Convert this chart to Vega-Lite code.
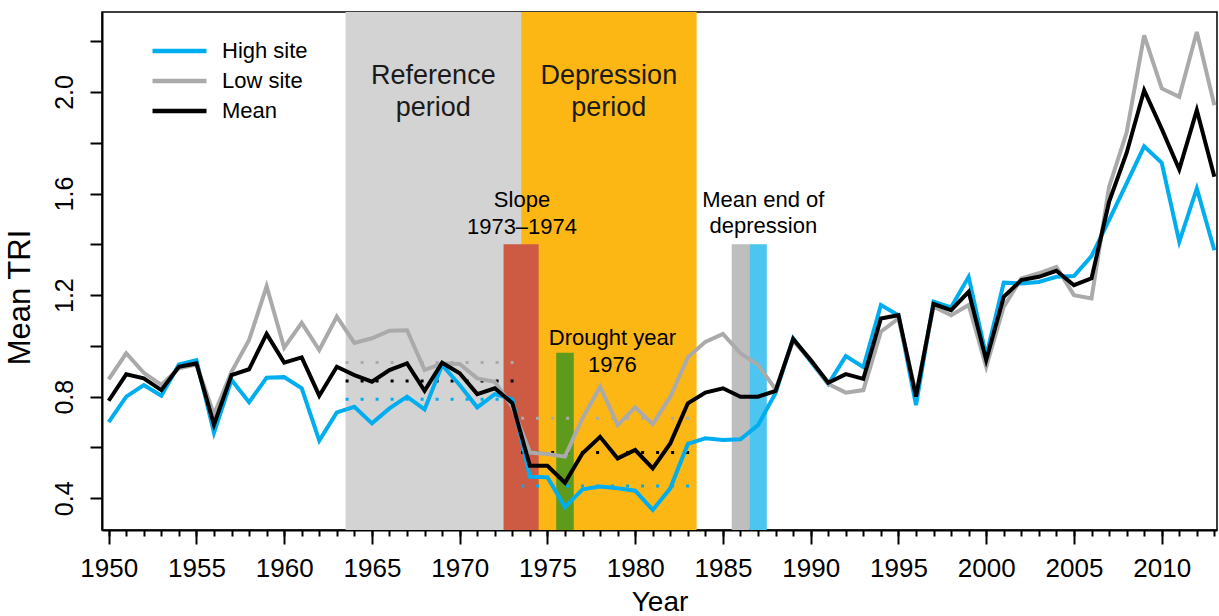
{
  "$schema": "https://vega.github.io/schema/vega-lite/v6.json",
  "width": 1115,
  "height": 518,
  "autosize": {"type": "none"},
  "padding": {"left": 102, "top": 12, "right": 2, "bottom": 86},
  "background": "white",
  "config": {
    "font": "Liberation Sans",
    "view": {"stroke": "#000", "strokeWidth": 1.5},
    "axis": {"domainColor": "#000", "domainWidth": 2, "tickColor": "#000", "tickWidth": 2, "labelColor": "#000", "titleColor": "#000", "labelFont": "Liberation Sans", "titleFont": "Liberation Sans", "labelFontSize": 25, "titleFontSize": 28, "titleFontWeight": "normal", "grid": false}
  },
  "resolve": {"axis": {"x": "independent"}},
  "datasets": {
    "periods": [
      {"period": "Reference", "start": 1963.5, "end": 1973.5},
      {"period": "Depression", "start": 1973.5, "end": 1983.5}
    ],
    "markers": [
      {"marker": "Slope", "start": 1972.5, "end": 1974.5, "top": 1.40},
      {"marker": "Drought", "start": 1975.5, "end": 1976.5, "top": 0.973},
      {"marker": "EndLow", "start": 1985.5, "end": 1986.5, "top": 1.40},
      {"marker": "EndHigh", "start": 1986.5, "end": 1987.5, "top": 1.40}
    ],
    "means": [
      {"series": "High site", "start": 1963.5, "end": 1973.5, "mean": 0.790},
      {"series": "Low site", "start": 1963.5, "end": 1973.5, "mean": 0.935},
      {"series": "Mean", "start": 1963.5, "end": 1973.5, "mean": 0.862},
      {"series": "High site", "start": 1973.5, "end": 1983.5, "mean": 0.448},
      {"series": "Low site", "start": 1973.5, "end": 1983.5, "mean": 0.715},
      {"series": "Mean", "start": 1973.5, "end": 1983.5, "mean": 0.580}
    ],
    "bigtext": [
      {"text": "Reference", "year": 1968.5, "tri": 2.062},
      {"text": "period", "year": 1968.5, "tri": 1.936},
      {"text": "Depression", "year": 1978.5, "tri": 2.062},
      {"text": "period", "year": 1978.5, "tri": 1.936}
    ],
    "smalltext": [
      {"text": "Slope", "year": 1973.55, "tri": 1.574},
      {"text": "1973–1974", "year": 1973.55, "tri": 1.469},
      {"text": "Mean end of", "year": 1987.3, "tri": 1.574},
      {"text": "depression", "year": 1987.3, "tri": 1.472},
      {"text": "Drought year", "year": 1978.7, "tri": 1.030},
      {"text": "1976", "year": 1978.7, "tri": 0.925}
    ],
    "tri": [
      {"series": "High site", "year": 1950, "tri": 0.70},
      {"series": "High site", "year": 1951, "tri": 0.80},
      {"series": "High site", "year": 1952, "tri": 0.846},
      {"series": "High site", "year": 1953, "tri": 0.804},
      {"series": "High site", "year": 1954, "tri": 0.927},
      {"series": "High site", "year": 1955, "tri": 0.944},
      {"series": "High site", "year": 1956, "tri": 0.658},
      {"series": "High site", "year": 1957, "tri": 0.866},
      {"series": "High site", "year": 1958, "tri": 0.778},
      {"series": "High site", "year": 1959, "tri": 0.875},
      {"series": "High site", "year": 1960, "tri": 0.877},
      {"series": "High site", "year": 1961, "tri": 0.833},
      {"series": "High site", "year": 1962, "tri": 0.627},
      {"series": "High site", "year": 1963, "tri": 0.738},
      {"series": "High site", "year": 1964, "tri": 0.760},
      {"series": "High site", "year": 1965, "tri": 0.695},
      {"series": "High site", "year": 1966, "tri": 0.754},
      {"series": "High site", "year": 1967, "tri": 0.800},
      {"series": "High site", "year": 1968, "tri": 0.750},
      {"series": "High site", "year": 1969, "tri": 0.925},
      {"series": "High site", "year": 1970, "tri": 0.846},
      {"series": "High site", "year": 1971, "tri": 0.758},
      {"series": "High site", "year": 1972, "tri": 0.810},
      {"series": "High site", "year": 1973, "tri": 0.790},
      {"series": "High site", "year": 1974, "tri": 0.485},
      {"series": "High site", "year": 1975, "tri": 0.483},
      {"series": "High site", "year": 1976, "tri": 0.365},
      {"series": "High site", "year": 1977, "tri": 0.435},
      {"series": "High site", "year": 1978, "tri": 0.446},
      {"series": "High site", "year": 1979, "tri": 0.439},
      {"series": "High site", "year": 1980, "tri": 0.430},
      {"series": "High site", "year": 1981, "tri": 0.354},
      {"series": "High site", "year": 1982, "tri": 0.439},
      {"series": "High site", "year": 1983, "tri": 0.614},
      {"series": "High site", "year": 1984, "tri": 0.636},
      {"series": "High site", "year": 1985, "tri": 0.629},
      {"series": "High site", "year": 1986, "tri": 0.632},
      {"series": "High site", "year": 1987, "tri": 0.688},
      {"series": "High site", "year": 1988, "tri": 0.815},
      {"series": "High site", "year": 1989, "tri": 1.030},
      {"series": "High site", "year": 1990, "tri": 0.938},
      {"series": "High site", "year": 1991, "tri": 0.850},
      {"series": "High site", "year": 1992, "tri": 0.960},
      {"series": "High site", "year": 1993, "tri": 0.916},
      {"series": "High site", "year": 1994, "tri": 1.161},
      {"series": "High site", "year": 1995, "tri": 1.121},
      {"series": "High site", "year": 1996, "tri": 0.767},
      {"series": "High site", "year": 1997, "tri": 1.174},
      {"series": "High site", "year": 1998, "tri": 1.152},
      {"series": "High site", "year": 1999, "tri": 1.272},
      {"series": "High site", "year": 2000, "tri": 0.960},
      {"series": "High site", "year": 2001, "tri": 1.249},
      {"series": "High site", "year": 2002, "tri": 1.246},
      {"series": "High site", "year": 2003, "tri": 1.252},
      {"series": "High site", "year": 2004, "tri": 1.272},
      {"series": "High site", "year": 2005, "tri": 1.275},
      {"series": "High site", "year": 2006, "tri": 1.354},
      {"series": "High site", "year": 2007, "tri": 1.495},
      {"series": "High site", "year": 2008, "tri": 1.640},
      {"series": "High site", "year": 2009, "tri": 1.786},
      {"series": "High site", "year": 2010, "tri": 1.721},
      {"series": "High site", "year": 2011, "tri": 1.410},
      {"series": "High site", "year": 2012, "tri": 1.620},
      {"series": "High site", "year": 2013, "tri": 1.377},
      {"series": "Low site", "year": 1950, "tri": 0.868},
      {"series": "Low site", "year": 1951, "tri": 0.971},
      {"series": "Low site", "year": 1952, "tri": 0.894},
      {"series": "Low site", "year": 1953, "tri": 0.846},
      {"series": "Low site", "year": 1954, "tri": 0.912},
      {"series": "Low site", "year": 1955, "tri": 0.927},
      {"series": "Low site", "year": 1956, "tri": 0.730},
      {"series": "Low site", "year": 1957, "tri": 0.898},
      {"series": "Low site", "year": 1958, "tri": 1.023},
      {"series": "Low site", "year": 1959, "tri": 1.235},
      {"series": "Low site", "year": 1960, "tri": 0.993},
      {"series": "Low site", "year": 1961, "tri": 1.091},
      {"series": "Low site", "year": 1962, "tri": 0.984},
      {"series": "Low site", "year": 1963, "tri": 1.115},
      {"series": "Low site", "year": 1964, "tri": 1.012},
      {"series": "Low site", "year": 1965, "tri": 1.030},
      {"series": "Low site", "year": 1966, "tri": 1.060},
      {"series": "Low site", "year": 1967, "tri": 1.062},
      {"series": "Low site", "year": 1968, "tri": 0.905},
      {"series": "Low site", "year": 1969, "tri": 0.931},
      {"series": "Low site", "year": 1970, "tri": 0.929},
      {"series": "Low site", "year": 1971, "tri": 0.872},
      {"series": "Low site", "year": 1972, "tri": 0.859},
      {"series": "Low site", "year": 1973, "tri": 0.760},
      {"series": "Low site", "year": 1974, "tri": 0.580},
      {"series": "Low site", "year": 1975, "tri": 0.574},
      {"series": "Low site", "year": 1976, "tri": 0.564},
      {"series": "Low site", "year": 1977, "tri": 0.715},
      {"series": "Low site", "year": 1978, "tri": 0.839},
      {"series": "Low site", "year": 1979, "tri": 0.688},
      {"series": "Low site", "year": 1980, "tri": 0.758},
      {"series": "Low site", "year": 1981, "tri": 0.692},
      {"series": "Low site", "year": 1982, "tri": 0.800},
      {"series": "Low site", "year": 1983, "tri": 0.955},
      {"series": "Low site", "year": 1984, "tri": 1.016},
      {"series": "Low site", "year": 1985, "tri": 1.047},
      {"series": "Low site", "year": 1986, "tri": 0.971},
      {"series": "Low site", "year": 1987, "tri": 0.925},
      {"series": "Low site", "year": 1988, "tri": 0.829},
      {"series": "Low site", "year": 1989, "tri": 1.020},
      {"series": "Low site", "year": 1990, "tri": 0.944},
      {"series": "Low site", "year": 1991, "tri": 0.850},
      {"series": "Low site", "year": 1992, "tri": 0.816},
      {"series": "Low site", "year": 1993, "tri": 0.826},
      {"series": "Low site", "year": 1994, "tri": 1.056},
      {"series": "Low site", "year": 1995, "tri": 1.108},
      {"series": "Low site", "year": 1996, "tri": 0.813},
      {"series": "Low site", "year": 1997, "tri": 1.154},
      {"series": "Low site", "year": 1998, "tri": 1.121},
      {"series": "Low site", "year": 1999, "tri": 1.161},
      {"series": "Low site", "year": 2000, "tri": 0.918},
      {"series": "Low site", "year": 2001, "tri": 1.154},
      {"series": "Low site", "year": 2002, "tri": 1.266},
      {"series": "Low site", "year": 2003, "tri": 1.286},
      {"series": "Low site", "year": 2004, "tri": 1.311},
      {"series": "Low site", "year": 2005, "tri": 1.200},
      {"series": "Low site", "year": 2006, "tri": 1.187},
      {"series": "Low site", "year": 2007, "tri": 1.626},
      {"series": "Low site", "year": 2008, "tri": 1.840},
      {"series": "Low site", "year": 2009, "tri": 2.223},
      {"series": "Low site", "year": 2010, "tri": 2.014},
      {"series": "Low site", "year": 2011, "tri": 1.981},
      {"series": "Low site", "year": 2012, "tri": 2.236},
      {"series": "Low site", "year": 2013, "tri": 1.948},
      {"series": "Mean", "year": 1950, "tri": 0.784},
      {"series": "Mean", "year": 1951, "tri": 0.888},
      {"series": "Mean", "year": 1952, "tri": 0.872},
      {"series": "Mean", "year": 1953, "tri": 0.826},
      {"series": "Mean", "year": 1954, "tri": 0.918},
      {"series": "Mean", "year": 1955, "tri": 0.931},
      {"series": "Mean", "year": 1956, "tri": 0.690},
      {"series": "Mean", "year": 1957, "tri": 0.885},
      {"series": "Mean", "year": 1958, "tri": 0.908},
      {"series": "Mean", "year": 1959, "tri": 1.047},
      {"series": "Mean", "year": 1960, "tri": 0.934},
      {"series": "Mean", "year": 1961, "tri": 0.955},
      {"series": "Mean", "year": 1962, "tri": 0.804},
      {"series": "Mean", "year": 1963, "tri": 0.918},
      {"series": "Mean", "year": 1964, "tri": 0.885},
      {"series": "Mean", "year": 1965, "tri": 0.859},
      {"series": "Mean", "year": 1966, "tri": 0.905},
      {"series": "Mean", "year": 1967, "tri": 0.931},
      {"series": "Mean", "year": 1968, "tri": 0.823},
      {"series": "Mean", "year": 1969, "tri": 0.934},
      {"series": "Mean", "year": 1970, "tri": 0.892},
      {"series": "Mean", "year": 1971, "tri": 0.810},
      {"series": "Mean", "year": 1972, "tri": 0.833},
      {"series": "Mean", "year": 1973, "tri": 0.775},
      {"series": "Mean", "year": 1974, "tri": 0.528},
      {"series": "Mean", "year": 1975, "tri": 0.528},
      {"series": "Mean", "year": 1976, "tri": 0.461},
      {"series": "Mean", "year": 1977, "tri": 0.577},
      {"series": "Mean", "year": 1978, "tri": 0.642},
      {"series": "Mean", "year": 1979, "tri": 0.557},
      {"series": "Mean", "year": 1980, "tri": 0.590},
      {"series": "Mean", "year": 1981, "tri": 0.518},
      {"series": "Mean", "year": 1982, "tri": 0.616},
      {"series": "Mean", "year": 1983, "tri": 0.774},
      {"series": "Mean", "year": 1984, "tri": 0.816},
      {"series": "Mean", "year": 1985, "tri": 0.833},
      {"series": "Mean", "year": 1986, "tri": 0.800},
      {"series": "Mean", "year": 1987, "tri": 0.800},
      {"series": "Mean", "year": 1988, "tri": 0.823},
      {"series": "Mean", "year": 1989, "tri": 1.027},
      {"series": "Mean", "year": 1990, "tri": 0.944},
      {"series": "Mean", "year": 1991, "tri": 0.855},
      {"series": "Mean", "year": 1992, "tri": 0.889},
      {"series": "Mean", "year": 1993, "tri": 0.870},
      {"series": "Mean", "year": 1994, "tri": 1.108},
      {"series": "Mean", "year": 1995, "tri": 1.121},
      {"series": "Mean", "year": 1996, "tri": 0.800},
      {"series": "Mean", "year": 1997, "tri": 1.165},
      {"series": "Mean", "year": 1998, "tri": 1.141},
      {"series": "Mean", "year": 1999, "tri": 1.213},
      {"series": "Mean", "year": 2000, "tri": 0.944},
      {"series": "Mean", "year": 2001, "tri": 1.193},
      {"series": "Mean", "year": 2002, "tri": 1.259},
      {"series": "Mean", "year": 2003, "tri": 1.272},
      {"series": "Mean", "year": 2004, "tri": 1.296},
      {"series": "Mean", "year": 2005, "tri": 1.239},
      {"series": "Mean", "year": 2006, "tri": 1.266},
      {"series": "Mean", "year": 2007, "tri": 1.567},
      {"series": "Mean", "year": 2008, "tri": 1.760},
      {"series": "Mean", "year": 2009, "tri": 2.007},
      {"series": "Mean", "year": 2010, "tri": 1.855},
      {"series": "Mean", "year": 2011, "tri": 1.695},
      {"series": "Mean", "year": 2012, "tri": 1.928},
      {"series": "Mean", "year": 2013, "tri": 1.666}
    ]
  },
  "layer": [
    {
      "data": {"name": "tri"},
      "mark": {"type": "line", "strokeWidth": 4, "opacity": 0},
      "encoding": {
        "x": {"field": "year", "type": "quantitative", "scale": {"domain": [1949.62, 2013.15], "nice": false, "zero": false},
          "axis": {"orient": "bottom", "title": "Year", "values": [1950, 1955, 1960, 1965, 1970, 1975, 1980, 1985, 1990, 1995, 2000, 2005, 2010],
            "format": "d", "tickSize": 14, "labelFontSize": 26, "labelPadding": 11, "titlePadding": 7, "labelOverlap": false, "labelFlush": false}},
        "y": {"field": "tri", "type": "quantitative", "scale": {"domain": [0.275, 2.315], "nice": false, "zero": false},
          "axis": {"title": "Mean TRI", "values": [0.4, 0.6, 0.8, 1.0, 1.2, 1.4, 1.6, 1.8, 2.0, 2.2],
            "labelExpr": "round(datum.value * 10) % 4 == 0 ? format(datum.value, '.1f') : ''",
            "labelAngle": -90, "labelAlign": "center", "labelBaseline": "bottom",
            "tickSize": 12, "labelPadding": 13, "titlePadding": 16, "titleFontSize": 31, "titleY": 285, "titleAlign": "center", "labelOverlap": false}},
        "color": {"field": "series", "type": "nominal", "scale": {"domain": ["High site", "Low site", "Mean"], "range": ["#00AEEF", "#AAAAAA", "#000000"]},
          "legend": {"title": null, "orient": "none", "legendX": 48, "legendY": 24, "padding": 0, "symbolType": "stroke", "symbolSize": 2916, "symbolStrokeWidth": 4.5, "symbolOpacity": 1, "labelFontSize": 22, "labelFont": "Liberation Sans", "labelColor": "#000", "labelOffset": 13, "clipHeight": 30, "rowPadding": 0}}
      }
    },
    {
      "data": {"name": "tri"},
      "mark": {"type": "line", "strokeWidth": 4, "opacity": 0},
      "encoding": {
        "x": {"field": "year", "type": "quantitative",
          "axis": {"orient": "bottom", "title": null, "labels": false, "domain": false, "tickSize": 6,
            "values": [1950,1951,1952,1953,1954,1955,1956,1957,1958,1959,1960,1961,1962,1963,1964,1965,1966,1967,1968,1969,1970,1971,1972,1973,1974,1975,1976,1977,1978,1979,1980,1981,1982,1983,1984,1985,1986,1987,1988,1989,1990,1991,1992,1993,1994,1995,1996,1997,1998,1999,2000,2001,2002,2003,2004,2005,2006,2007,2008,2009,2010,2011,2012,2013]}},
        "y": {"field": "tri", "type": "quantitative"}
      }
    },
    {
      "data": {"name": "periods"},
      "transform": [{"filter": "datum.period === 'Reference'"}],
      "mark": {"type": "rect", "color": "#D3D3D3"},
      "encoding": {
        "x": {"field": "start", "type": "quantitative", "axis": null},
        "x2": {"field": "end"}
      }
    },
    {
      "data": {"name": "periods"},
      "transform": [{"filter": "datum.period === 'Depression'"}],
      "mark": {"type": "rect", "color": "#FDB714"},
      "encoding": {
        "x": {"field": "start", "type": "quantitative", "axis": null},
        "x2": {"field": "end"}
      }
    },
    {
      "data": {"name": "markers"},
      "transform": [{"filter": "datum.marker === 'Slope'"}],
      "mark": {"type": "rect", "color": "#CD5B44", "clip": true},
      "encoding": {
        "x": {"field": "start", "type": "quantitative", "axis": null},
        "x2": {"field": "end"},
        "y": {"field": "top", "type": "quantitative"},
        "y2": {"datum": 0.275}
      }
    },
    {
      "data": {"name": "markers"},
      "transform": [{"filter": "datum.marker === 'Drought'"}],
      "mark": {"type": "rect", "color": "#5E9A1C", "clip": true},
      "encoding": {
        "x": {"field": "start", "type": "quantitative", "axis": null},
        "x2": {"field": "end"},
        "y": {"field": "top", "type": "quantitative"},
        "y2": {"datum": 0.275}
      }
    },
    {
      "data": {"name": "markers"},
      "transform": [{"filter": "datum.marker === 'EndLow'"}],
      "mark": {"type": "rect", "color": "#BEBEBE", "clip": true},
      "encoding": {
        "x": {"field": "start", "type": "quantitative", "axis": null},
        "x2": {"field": "end"},
        "y": {"field": "top", "type": "quantitative"},
        "y2": {"datum": 0.275}
      }
    },
    {
      "data": {"name": "markers"},
      "transform": [{"filter": "datum.marker === 'EndHigh'"}],
      "mark": {"type": "rect", "color": "#4CC6F0", "clip": true},
      "encoding": {
        "x": {"field": "start", "type": "quantitative", "axis": null},
        "x2": {"field": "end"},
        "y": {"field": "top", "type": "quantitative"},
        "y2": {"datum": 0.275}
      }
    },
    {
      "data": {"name": "means"},
      "mark": {"type": "rule", "strokeWidth": 3, "strokeDash": [3, 12], "strokeCap": "butt"},
      "encoding": {
        "x": {"field": "start", "type": "quantitative", "axis": null},
        "x2": {"field": "end"},
        "y": {"field": "mean", "type": "quantitative"},
        "stroke": {"field": "series", "type": "nominal", "scale": {"domain": ["High site", "Low site", "Mean"], "range": ["#00AEEF", "#AAAAAA", "#000000"]}, "legend": null}
      }
    },
    {
      "data": {"name": "tri"},
      "mark": {"type": "line", "strokeWidth": 4, "strokeJoin": "miter"},
      "encoding": {
        "x": {"field": "year", "type": "quantitative", "axis": null},
        "y": {"field": "tri", "type": "quantitative"},
        "color": {"field": "series", "type": "nominal"}
      }
    },
    {
      "data": {"name": "bigtext"},
      "mark": {"type": "text", "fontSize": 27, "color": "#1a1a1a", "align": "center", "baseline": "middle"},
      "encoding": {
        "x": {"field": "year", "type": "quantitative", "axis": null},
        "y": {"field": "tri", "type": "quantitative"},
        "text": {"field": "text"}
      }
    },
    {
      "data": {"name": "smalltext"},
      "mark": {"type": "text", "fontSize": 22, "color": "#000", "align": "center", "baseline": "middle"},
      "encoding": {
        "x": {"field": "year", "type": "quantitative", "axis": null},
        "y": {"field": "tri", "type": "quantitative"},
        "text": {"field": "text"}
      }
    }
  ]
}
